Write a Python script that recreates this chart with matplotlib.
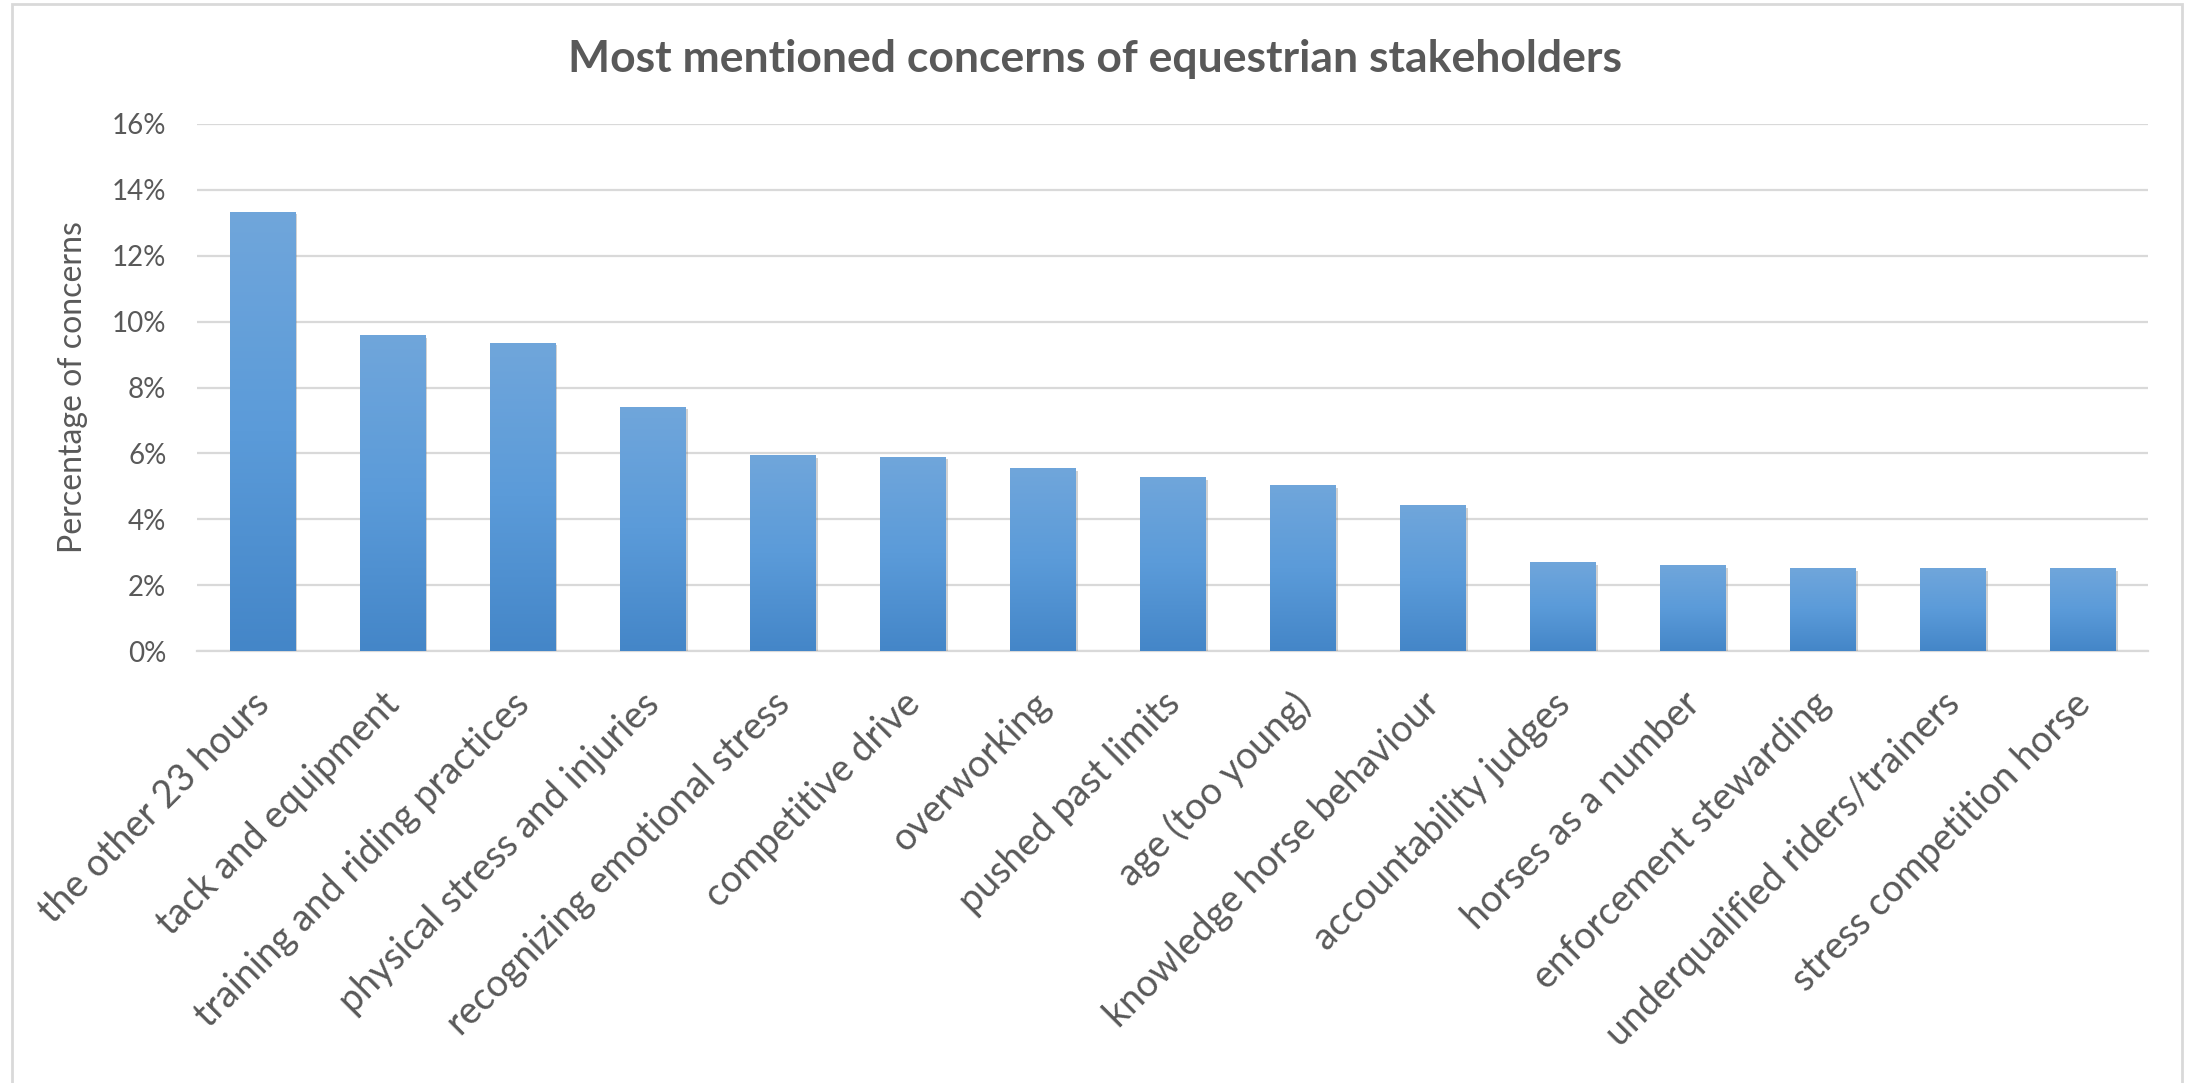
import numpy as np
import matplotlib.pyplot as plt
import matplotlib as mpl
import matplotlib.patheffects as pe
import matplotlib.transforms as mtrans
from matplotlib.patches import Rectangle
from matplotlib.colors import LinearSegmentedColormap
from matplotlib.ticker import PercentFormatter, MultipleLocator

concerns = [
    "the other 23 hours",
    "tack and equipment",
    "training and riding practices",
    "physical stress and injuries",
    "recognizing emotional stress",
    "competitive drive",
    "overworking",
    "pushed past limits",
    "age (too young)",
    "knowledge horse behaviour",
    "accountability judges",
    "horses as a number",
    "enforcement stewarding",
    "underqualified riders/trainers",
    "stress competition horse",
]
share = [13.34, 9.60, 9.36, 7.42, 5.95, 5.90, 5.55, 5.29, 5.03, 4.42,
         2.69, 2.60, 2.51, 2.51, 2.51]

mpl.rcParams.update({
    "font.family": ["Lato", "DejaVu Sans"],
    "text.color": "#595959",
    "xtick.color": "#595959",
    "ytick.color": "#595959",
    "axes.labelcolor": "#595959",
})

W, H = 2192, 1083
fig = plt.figure(figsize=(W / 100, H / 100), dpi=100)
ax = fig.add_axes([197 / W, 1 - 651 / H, (2148 - 197) / W, (651 - 124) / H])

x = np.arange(len(concerns))
bars = ax.bar(x, share, width=0.5, color="#5B9BD5", zorder=3,
              path_effects=[pe.SimplePatchShadow(offset=(2, -2), shadow_rgbFace="#7f7f7f", alpha=0.35),
                            pe.Normal()])

# vertical gradient on each bar, like the spreadsheet style
grad = LinearSegmentedColormap.from_list("bar", ["#4486C8", "#5B9BD9", "#70A6DB"])
ramp = np.linspace(0, 1, 256).reshape(-1, 1)
for b in bars:
    x0, h = b.get_x(), b.get_height()
    im = ax.imshow(ramp, cmap=grad, origin="lower", aspect="auto", zorder=3.5,
                   extent=[x0, x0 + b.get_width(), 0, h])
    im.set_clip_path(b)

ax.set_xlim(-0.5, len(concerns) - 0.5)
ax.set_ylim(0, 16)
ax.yaxis.set_major_locator(MultipleLocator(2))
ax.yaxis.set_major_formatter(PercentFormatter(decimals=0))
ax.yaxis.grid(True, color="#D9D9D9", lw=1.6)
ax.set_axisbelow(True)
for s in ["top", "right", "left"]:
    ax.spines[s].set_visible(False)
ax.spines["bottom"].set_color("#D9D9D9")
ax.spines["bottom"].set_linewidth(1.6)
ax.tick_params(axis="both", length=0)
ax.tick_params(axis="y", pad=22, labelsize=20)
ax.tick_params(axis="x", pad=25, labelsize=27)

ax.set_xticks(x)
ax.set_xticklabels(concerns, rotation=45, ha="right", rotation_mode="anchor")
shift = mtrans.ScaledTranslation(-0.11, 0, fig.dpi_scale_trans)
for lbl in ax.get_xticklabels():
    lbl.set_transform(lbl.get_transform() + shift)

ax.set_ylabel("Percentage of concerns", fontsize=23)
ax.yaxis.set_label_coords(-0.0559, 0.5)

fig.text(0.4995, 1 - 59 / H, "Most mentioned concerns of equestrian stakeholders",
         ha="center", va="center", fontsize=32, fontweight="bold", color="#595959")

fig.patches.append(Rectangle((12 / W, -0.01), (2182 - 12) / W, 1.01 - 4 / H,
                             transform=fig.transFigure, fill=False,
                             edgecolor="#D9D9D9", lw=2))

fig.savefig("out.png", dpi=100)
